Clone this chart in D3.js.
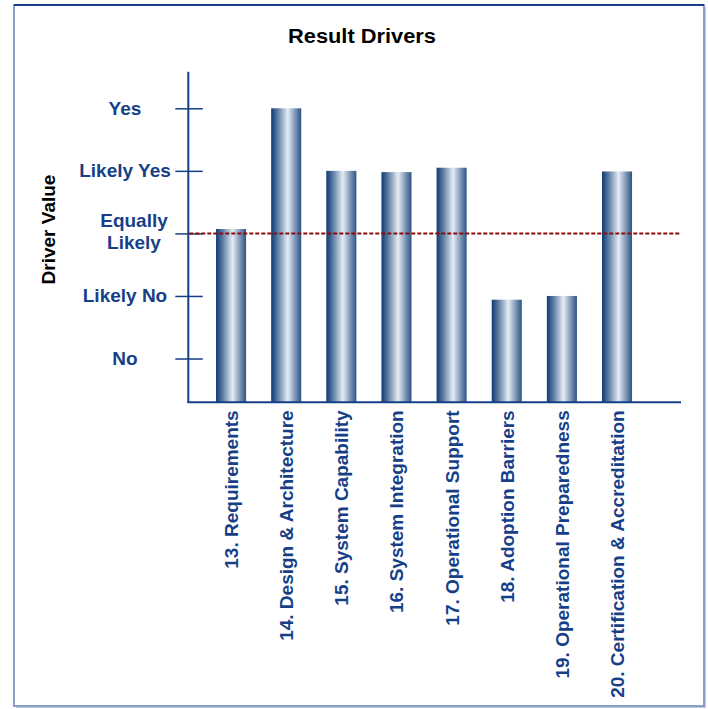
<!DOCTYPE html>
<html>
<head>
<meta charset="utf-8">
<script src="https://cdn.jsdelivr.net/npm/d3@7"></script>
<style>
  body { margin: 0; background: #fff; }
  text { font-family: Arial, "Liberation Sans", sans-serif; font-weight: bold; }
</style>
</head>
<body>
<div id="container"></div>
<script>
// data
const categories = [
  '13. Requirements',
  '14. Design & Architecture',
  '15. System Capability',
  '16. System Integration',
  '17. Operational Support',
  '18. Adoption Barriers',
  '19. Operational Preparedness',
  '20. Certification & Accreditation'
];
const driverValues = [3.07, 5.0, 4.0, 3.98, 4.05, 1.94, 2.0, 3.99];
const tickValues = [1, 2, 3, 4, 5];
const tickLabels = ['No', 'Likely No', 'Equally Likely', 'Likely Yes', 'Yes'];
const thresholdValue = 3;

const width = 708, height = 709;
const blue = '#173f88';

const svg = d3.select('#container')
  .append('svg')
  .attr('width', width)
  .attr('height', height);

// gradient for the cylinder-like bars
const defs = svg.append('defs');
const grad = defs.append('linearGradient')
  .attr('id', 'barGrad')
  .attr('x1', '0%').attr('x2', '100%')
  .attr('y1', '0%').attr('y2', '0%');
grad.append('stop').attr('offset', '0%').attr('stop-color', '#0d3a70');
grad.append('stop').attr('offset', '22%').attr('stop-color', '#5d7ca3');
grad.append('stop').attr('offset', '55%').attr('stop-color', '#e6ecf5');
grad.append('stop').attr('offset', '80%').attr('stop-color', '#7d96b6');
grad.append('stop').attr('offset', '100%').attr('stop-color', '#2c5482');

// frame
svg.append('rect')
  .attr('x', 16).attr('y', 7)
  .attr('width', 690).attr('height', 701)
  .attr('fill', '#c4c8d0');
svg.append('rect')
  .attr('x', 14).attr('y', 5)
  .attr('width', 690).attr('height', 701)
  .attr('fill', '#fff')
  .attr('stroke', '#8aa0c8')
  .attr('stroke-width', 2);
svg.append('line')
  .attr('x1', 14).attr('x2', 704)
  .attr('y1', 5).attr('y2', 5)
  .attr('stroke', '#1a3f8a')
  .attr('stroke-width', 2);

// scales
const x = d3.scaleBand()
  .domain(categories)
  .range([203.5, 644.6])
  .paddingInner(0.455)
  .paddingOuter(0.2275);

const y = d3.scaleLinear()
  .domain([0.3, 5.585])
  .range([402.3, 71.7]);

const axisLeft = 188.3, axisRight = 681;

// title
svg.append('text')
  .attr('x', 362)
  .attr('y', 43)
  .attr('text-anchor', 'middle')
  .attr('font-size', 19.5)
  .attr('textLength', 148)
  .attr('lengthAdjust', 'spacingAndGlyphs')
  .attr('fill', '#000')
  .text('Result Drivers');

// y axis title
svg.append('text')
  .attr('transform', `translate(54.5,229.5) rotate(-90)`)
  .attr('text-anchor', 'middle')
  .attr('font-size', 19)
  .attr('fill', '#000')
  .text('Driver Value');

// bars
svg.selectAll('.bar')
  .data(categories)
  .enter()
  .append('rect')
  .attr('class', 'bar')
  .attr('x', d => x(d))
  .attr('width', x.bandwidth())
  .attr('y', (d, i) => y(driverValues[i]))
  .attr('height', (d, i) => y.range()[0] - y(driverValues[i]))
  .attr('fill', 'url(#barGrad)');

// y axis with crossing ticks
const yAxis = d3.axisLeft(y)
  .tickValues(tickValues)
  .tickSize(0)
  .tickFormat('');
const yg = svg.append('g')
  .attr('transform', `translate(${axisLeft},0)`)
  .call(yAxis);
yg.select('.domain').remove();
yg.selectAll('.tick line')
  .attr('x1', -13).attr('x2', 14.5)
  .attr('stroke', blue)
  .attr('stroke-width', 1.5);

svg.append('line')
  .attr('x1', axisLeft).attr('x2', axisLeft)
  .attr('y1', y.range()[1]).attr('y2', y.range()[0])
  .attr('stroke', blue)
  .attr('stroke-width', 2);

// y tick labels (two lines for Equally Likely)
tickValues.forEach((v, i) => {
  const words = tickLabels[i] === 'Equally Likely' ? ['Equally', 'Likely'] : [tickLabels[i]];
  const t = svg.append('text')
    .attr('text-anchor', 'middle')
    .attr('font-size', 19)
    .attr('fill', blue);
  const cx = words.length > 1 ? 134 : 125;
  words.forEach((w, j) => {
    t.append('tspan')
      .attr('x', cx)
      .attr('y', y(v) + 6.5 + (j - (words.length - 1) / 2) * 22 - (words.length > 1 ? 2 : 0))
      .text(w);
  });
});

// x axis line
svg.append('line')
  .attr('x1', axisLeft - 1).attr('x2', axisRight)
  .attr('y1', y.range()[0]).attr('y2', y.range()[0])
  .attr('stroke', blue)
  .attr('stroke-width', 2);

// threshold line
svg.append('line')
  .attr('x1', axisLeft + 1).attr('x2', axisRight)
  .attr('y1', y(thresholdValue)).attr('y2', y(thresholdValue))
  .attr('stroke', '#8b0a0a')
  .attr('stroke-width', 2)
  .attr('stroke-dasharray', '4,2');

// category labels, rotated
svg.selectAll('.xlab')
  .data(categories)
  .enter()
  .append('text')
  .attr('class', 'xlab')
  .attr('transform', d => `translate(${x(d) + x.bandwidth() / 2 + 7},${y.range()[0] + 8}) rotate(-90)`)
  .attr('text-anchor', 'end')
  .attr('font-size', 19)
  .attr('fill', blue)
  .text(d => d);
</script>
</body>
</html>
